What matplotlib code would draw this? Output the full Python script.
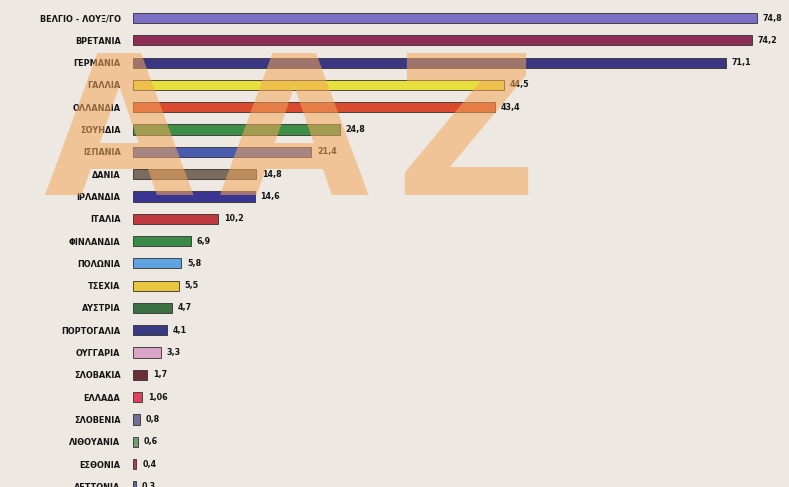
import matplotlib.pyplot as plt

# countries top to bottom
countries = ["ΒΕΛΓΙΟ - ΛΟΥΞ/ΓΟ", "ΒΡΕΤΑΝΙΑ", "ΓΕΡΜΑΝΙΑ", "ΓΑΛΛΙΑ", "ΟΛΛΑΝΔΙΑ",
             "ΣΟΥΗΔΙΑ", "ΙΣΠΑΝΙΑ", "ΔΑΝΙΑ", "ΙΡΛΑΝΔΙΑ", "ΙΤΑΛΙΑ", "ΦΙΝΛΑΝΔΙΑ",
             "ΠΟΛΩΝΙΑ", "ΤΣΕΧΙΑ", "ΑΥΣΤΡΙΑ", "ΠΟΡΤΟΓΑΛΙΑ", "ΟΥΓΓΑΡΙΑ",
             "ΣΛΟΒΑΚΙΑ", "ΕΛΛΑΔΑ", "ΣΛΟΒΕΝΙΑ", "ΛΙΘΟΥΑΝΙΑ", "ΕΣΘΟΝΙΑ", "ΛΕΤΤΟΝΙΑ"]
values = [74.8, 74.2, 71.1, 44.5, 43.4, 24.8, 21.4, 14.8, 14.6, 10.2, 6.9,
          5.8, 5.5, 4.7, 4.1, 3.3, 1.7, 1.06, 0.8, 0.6, 0.4, 0.3]
value_labels = ["74,8", "74,2", "71,1", "44,5", "43,4", "24,8", "21,4", "14,8",
                "14,6", "10,2", "6,9", "5,8", "5,5", "4,7", "4,1", "3,3", "1,7",
                "1,06", "0,8", "0,6", "0,4", "0,3"]
colors = ["#7b70c6", "#8c2d56", "#3a3682", "#e6df3c", "#d94a2e", "#3f8e47",
          "#4a5cb0", "#7a6b5c", "#3b3592", "#c0393f", "#3a8a4a", "#5ea2e0",
          "#e8c640", "#3b7042", "#3a3a82", "#d9a2c6", "#6a3038", "#e0415e",
          "#6f6f98", "#70a070", "#b04050", "#5070a0"]

# watermark letters
mark_letters = ["Α", "Α", "Ζ"]
mark_x = [0.15, 0.372, 0.59]

paper = "#eee8e3"
fig = plt.figure(figsize=(7.89, 4.87), dpi=100, facecolor=paper)
ax = fig.add_axes([133 / 789, 0, 1 - 133 / 789, 1])
ax.set_facecolor(paper)

y = list(range(len(countries)))
ax.barh(y, values, height=0.46, color=colors, edgecolor="#33302e", linewidth=0.6)

for yi, v, lab in zip(y, values, value_labels):
    ax.text(v + 0.7, yi, lab, va="center", ha="left", fontsize=5.8,
            fontweight="bold", color="#151515")

ax.set_xlim(0, 656 / 8.34)
ax.set_ylim(21.03, -0.81)
ax.set_yticks(y)
ax.set_yticklabels(countries, fontsize=5.9, fontweight="bold", color="#151515")
ax.tick_params(axis="y", length=0, pad=9)
ax.set_xticks([])
for s in ax.spines.values():
    s.set_visible(False)

# orange watermark over the chart
for letter, xm in zip(mark_letters, mark_x):
    fig.text(xm, 0.711, letter, ha="center", va="center", fontsize=140,
             fontweight="bold", color="#f4a85a", alpha=0.55, zorder=10)

fig.savefig("out.png", dpi=100, facecolor=paper)
